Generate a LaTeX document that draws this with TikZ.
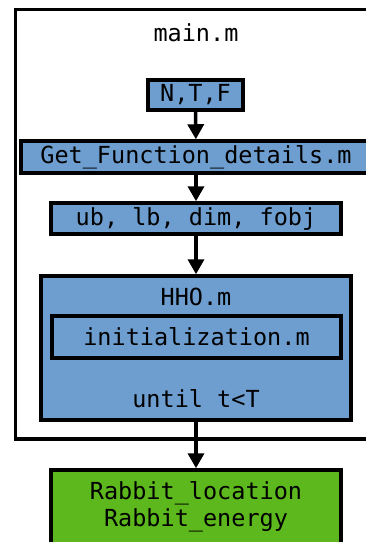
\documentclass[tikz,border=0pt]{standalone}
\usepackage{fontspec}
\setmonofont{DejaVu Sans Mono}
\usetikzlibrary{arrows.meta}
\definecolor{boxblue}{RGB}{110,158,207}
\definecolor{boxgreen}{RGB}{92,184,28}
\tikzset{
  x=1pt, y=-1pt,
  every node/.style={font=\ttfamily\fontsize{23.5}{27}\selectfont, inner sep=0pt, align=center},
  bluebox/.style={draw=black, line width=3.5pt, fill=boxblue},
  greenbox/.style={draw=black, line width=3.5pt, fill=boxgreen},
  flow/.style={line width=3.5pt, -{Triangle[width=16pt,length=15pt]}},
}
\begin{document}
\begin{tikzpicture}
\useasboundingbox (0,0) rectangle (366,542);
\clip (0,0) rectangle (366,542);
% outer frame of the main script
\draw[line width=3.5pt] (15.5,9.5) rectangle (385,439);
\node (main) at (196,33) {main.m};
% inputs and problem definition
\node[bluebox, minimum width=95pt, minimum height=30pt] (ntf) at (195.5,95) {N,T,F};
\node[bluebox, minimum width=350pt, minimum height=32pt] (gfd) at (196,157) {Get\_Function\_details.m};
\node[bluebox, minimum width=290pt, minimum height=31pt] (ub) at (196,218.5) {ub, lb, dim, fobj};
% optimiser with its initialisation step
\node[bluebox, minimum width=310pt, minimum height=144pt] (hho) at (196,348) {};
\node (hhot) at (196,297) {HHO.m};
\node[bluebox, minimum width=289pt, minimum height=42pt] (init) at (196.5,337) {initialization.m};
\node (until) at (196,399) {until t<T};
% result
\node[greenbox, minimum width=290pt, minimum height=74pt] (res) at (196,507)
  {Rabbit\_location\\Rabbit\_energy};
% connectors
\draw[flow] (ntf) -- (gfd);
\draw[flow] (gfd) -- (ub);
\draw[flow] (ub) -- (hho);
\draw[flow] (hho) -- (res);
\end{tikzpicture}
\end{document}
